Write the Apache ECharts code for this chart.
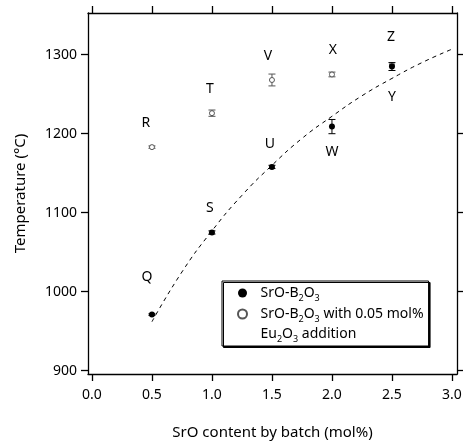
<!DOCTYPE html>
<html>
<head>
<meta charset="utf-8">
<script src="https://cdn.jsdelivr.net/npm/echarts@6/dist/echarts.min.js"></script>
<style>
  html, body { margin: 0; padding: 0; background: #fff; }
  #main { width: 463px; height: 441px; }
</style>
</head>
<body>
<div id="main"></div>
<script>
  // tick values
  const xTicks = [0, 0.5, 1, 1.5, 2, 2.5, 3]
  const yTicks = [900, 1000, 1100, 1200, 1300]

  // SrO-B2O3 (filled)
  const sroX = [0.5, 1.0, 1.5, 2.0, 2.5]
  const sroY = [971, 1075, 1158, 1209, 1285]
  const sroErr = [1, 2, 2, 9, 5]
  const sroNames = ['Q', 'S', 'U', 'W', 'Y']

  // SrO-B2O3 with 0.05 mol% Eu2O3 (open)
  const euX = [0.5, 1.0, 1.5, 2.0, 2.5]
  const euY = [1183, 1226, 1268, 1275, 1287]
  const euErr = [1.5, 4, 7.5, 3, 0]
  const euNames = ['R', 'T', 'V', 'X', 'Z']

  // dashed guide curve
  const fitX = [0.5, 0.75, 1, 1.25, 1.5, 1.75, 2, 2.25, 2.5, 2.75, 3]
  const fitY = [962, 1025, 1077, 1122, 1160, 1194, 1222, 1248, 1270, 1290, 1307]

  const font = 'Noto Sans'

  // where each letter sits relative to its point
  const labelPlace = {
    Q: { position: 'top', distance: 28, offset: [-5, 0] },
    S: { position: 'top', distance: 14, offset: [-2, 0] },
    U: { position: 'top', distance: 13, offset: [-2, 0] },
    W: { position: 'bottom', distance: 15, offset: [0, 0] },
    Y: { position: 'bottom', distance: 20, offset: [0, 0] },
    R: { position: 'top', distance: 14, offset: [-6, 0] },
    T: { position: 'top', distance: 14, offset: [-2, 0] },
    V: { position: 'top', distance: 14, offset: [-4, 0] },
    X: { position: 'top', distance: 14, offset: [1, 0] },
    Z: { position: 'top', distance: 18, offset: [-1, 0] }
  }

  function pointData(xs, ys, names) {
    return xs.map(function (x, i) {
      let p = labelPlace[names[i]]
      return {
        value: [x, ys[i]],
        label: {
          show: true,
          formatter: names[i],
          position: p.position,
          distance: p.distance,
          offset: p.offset,
          color: '#000',
          fontSize: 14,
          fontFamily: font
        }
      }
    })
  }

  function errorBar(color) {
    return function (params, api) {
      let x = api.value(0)
      let y = api.value(1)
      let e = api.value(2)
      if (!e) return null
      let lo = api.coord([x, y - e])
      let hi = api.coord([x, y + e])
      let w = 3.5
      let st = { stroke: color, lineWidth: 1 }
      return {
        type: 'group',
        children: [
          { type: 'line', shape: { x1: lo[0], y1: lo[1], x2: hi[0], y2: hi[1] }, style: st },
          { type: 'line', shape: { x1: lo[0] - w, y1: lo[1], x2: lo[0] + w, y2: lo[1] }, style: st },
          { type: 'line', shape: { x1: hi[0] - w, y1: hi[1], x2: hi[0] + w, y2: hi[1] }, style: st }
        ]
      }
    }
  }

  const axisLine = { show: true, onZero: false, lineStyle: { color: '#000', width: 1.3 } }
  const tick = { show: true, inside: false, length: 7, lineStyle: { color: '#000', width: 1.3 } }

  let myChart = echarts.init(document.getElementById('main'))
  let option = {
    animation: false,
    backgroundColor: '#fff',
    grid: { left: 88, right: 6, top: 13, bottom: 67, outerBoundsMode: 'none' },
    xAxis: [
      {
        type: 'value', min: -0.033, max: 3.042, position: 'bottom',
        axisLine: axisLine,
        axisTick: Object.assign({ customValues: xTicks }, tick),
        axisLabel: {
          customValues: xTicks, margin: 14, color: '#000', fontSize: 14, fontFamily: font,
          formatter: function (v) { return v.toFixed(1) }
        },
        splitLine: { show: false },
        name: 'SrO content by batch (mol%)', nameLocation: 'middle', nameGap: 51,
        nameTextStyle: { color: '#000', fontSize: 15, fontFamily: font }
      },
      {
        type: 'value', min: -0.033, max: 3.042, position: 'top',
        axisLine: axisLine,
        axisTick: Object.assign({ customValues: xTicks }, tick),
        axisLabel: { show: false },
        splitLine: { show: false }
      }
    ],
    yAxis: [
      {
        type: 'value', min: 895.8, max: 1352.8, position: 'left',
        axisLine: axisLine,
        axisTick: Object.assign({ customValues: yTicks }, tick),
        axisLabel: {
          customValues: yTicks, margin: 11, color: '#000', fontSize: 14, fontFamily: font,
          formatter: function (v) { return String(v) }
        },
        splitLine: { show: false },
        name: 'Temperature (°C)', nameLocation: 'middle', nameGap: 60,
        nameTextStyle: { color: '#000', fontSize: 15, fontFamily: font }
      },
      {
        type: 'value', min: 895.8, max: 1352.8, position: 'right',
        axisLine: axisLine,
        axisTick: Object.assign({ customValues: yTicks }, tick),
        axisLabel: { show: false },
        splitLine: { show: false }
      }
    ],
    legend: {
      data: [
        { name: 'sro' },
        { name: 'eu', textStyle: { padding: [20, 0, 0, 0] } }
      ],
      orient: 'vertical',
      left: 222,
      top: 281,
      padding: [5, 5, 2, 15],
      itemGap: 4,
      itemWidth: 26,
      itemHeight: 9,
      backgroundColor: '#fff',
      borderColor: '#000',
      borderWidth: 1,
      borderRadius: 0,
      shadowColor: '#000',
      shadowOffsetX: 1.5,
      shadowOffsetY: 1.5,
      shadowBlur: 0,
      selectedMode: false,
      formatter: function (name) {
        if (name === 'sro') return '{a|SrO-B}{s|2}{a|O}{s|3}'
        return '{a|SrO-B}{s|2}{a|O}{s|3}{a| with 0.05 mol%}\n{a|Eu}{s|2}{a|O}{s|3}{a| addition}'
      },
      textStyle: {
        color: '#000',
        fontFamily: font,
        rich: {
          a: { fontSize: 14, lineHeight: 20, fontFamily: font, color: '#000' },
          s: { fontSize: 9, verticalAlign: 'bottom', fontFamily: font, color: '#000' }
        }
      }
    },
    series: [
      {
        type: 'line',
        data: fitX.map(function (x, i) { return [x, fitY[i]] }),
        smooth: true,
        symbol: 'none',
        silent: true,
        lineStyle: { color: '#000', width: 1, type: [4, 4] },
        z: 1
      },
      {
        type: 'custom',
        renderItem: errorBar('#555'),
        data: euX.map(function (x, i) { return [x, euY[i], euErr[i]] }),
        encode: { x: 0, y: 1 },
        silent: true,
        z: 2
      },
      {
        name: 'eu',
        type: 'scatter',
        symbol: 'circle',
        symbolSize: 5,
        itemStyle: { color: '#fff', borderColor: '#555', borderWidth: 1, opacity: 1 },
        data: pointData(euX, euY, euNames),
        z: 3
      },
      {
        type: 'custom',
        renderItem: errorBar('#000'),
        data: sroX.map(function (x, i) { return [x, sroY[i], sroErr[i]] }),
        encode: { x: 0, y: 1 },
        silent: true,
        z: 4
      },
      {
        name: 'sro',
        type: 'scatter',
        symbol: 'circle',
        symbolSize: 6,
        itemStyle: { color: '#000', opacity: 1 },
        data: pointData(sroX, sroY, sroNames),
        z: 5
      }
    ]
  }
  myChart.setOption(option)
</script>
</body>
</html>
